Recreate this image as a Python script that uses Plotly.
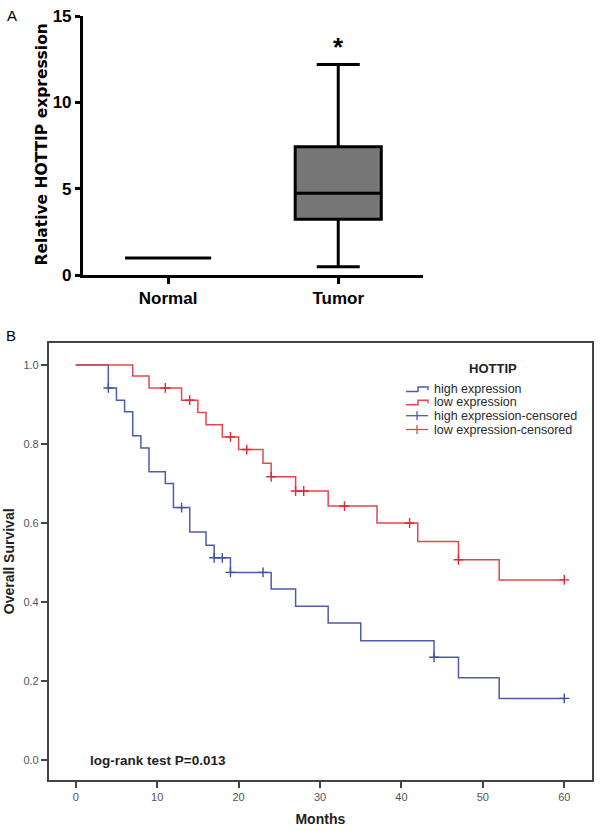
import numpy as np
import plotly.graph_objects as go

W, H = 600, 831
FONT = "Liberation Sans, Arial, sans-serif"
WIDE = "DejaVu Sans, Liberation Sans, sans-serif"


def fx(p):
    return p / W


def fy(p):
    return 1 - p / H


# ---------------- Panel A data (box plot) ----------------
groups = ["Normal", "Tumor"]
q1_vals = [1.0, 3.24]
median_vals = [1.0, 4.74]
q3_vals = [1.0, 7.44]
lower_vals = [1.0, 0.5]
upper_vals = [1.0, 12.2]
sig_labels = ["", "*"]
sig_y = [None, 13.2]
a_yticks = [0, 5, 10, 15]

# ---------------- Panel B data (Kaplan-Meier) ----------------
high_times = [0, 4, 5, 6, 7, 8, 9, 11, 12, 14, 16, 17, 19, 24, 27, 31, 35, 44, 47, 52, 60]
high_surv = [1.0, 0.942, 0.911, 0.882, 0.821, 0.790, 0.730, 0.700, 0.639, 0.577, 0.544,
             0.512, 0.475, 0.433, 0.389, 0.347, 0.302, 0.260, 0.208, 0.156, 0.156]
low_times = [0, 7, 9, 13, 15, 16, 18, 20, 23, 24, 27, 31, 37, 42, 47, 52, 60]
low_surv = [1.0, 0.972, 0.942, 0.911, 0.880, 0.849, 0.818, 0.786, 0.751, 0.717, 0.681,
            0.643, 0.600, 0.553, 0.507, 0.456, 0.456]
high_censored = [4, 13, 17, 18, 19, 23, 44, 60]
low_censored = [11, 14, 19, 21, 24, 27, 28, 33, 41, 47, 60]
b_xticks = [0, 10, 20, 30, 40, 50, 60]
b_yticks = [0.0, 0.2, 0.4, 0.6, 0.8, 1.0]

BLUE = "#4d5cab"
RED = "#e2474f"
BLUE_C = "#3f4f9f"
RED_C = "#d92a35"


def km_at(times, surv, t):
    idx = np.searchsorted(np.array(times), np.array(t), side="right") - 1
    return list(np.array(surv)[idx])


fig = go.Figure()

# Panel A boxes
for i, g in enumerate(groups):
    fig.add_trace(go.Box(
        x=[i], q1=[q1_vals[i]], median=[median_vals[i]], q3=[q3_vals[i]],
        lowerfence=[lower_vals[i]], upperfence=[upper_vals[i]],
        name=g, width=0.506, whiskerwidth=0.5, fillcolor="#767676",
        line=dict(color="black", width=3), boxpoints=False,
        showlegend=False, xaxis="x", yaxis="y", hoverinfo="skip"))

# Panel B curves
fig.add_trace(go.Scatter(x=high_times, y=high_surv, mode="lines", line_shape="hv",
                         line=dict(color=BLUE, width=1.5), name="high expression",
                         xaxis="x2", yaxis="y2", showlegend=False))
fig.add_trace(go.Scatter(x=low_times, y=low_surv, mode="lines", line_shape="hv",
                         line=dict(color=RED, width=1.5), name="low expression",
                         xaxis="x2", yaxis="y2", showlegend=False))
fig.add_trace(go.Scatter(x=high_censored, y=km_at(high_times, high_surv, high_censored),
                         mode="markers", name="high expression-censored",
                         marker=dict(symbol="cross-thin", size=7,
                                     line=dict(color=BLUE_C, width=1.4)),
                         xaxis="x2", yaxis="y2", showlegend=False))
fig.add_trace(go.Scatter(x=low_censored, y=km_at(low_times, low_surv, low_censored),
                         mode="markers", name="low expression-censored",
                         marker=dict(symbol="cross-thin", size=7,
                                     line=dict(color=RED_C, width=1.4)),
                         xaxis="x2", yaxis="y2", showlegend=False))

annotations = []
shapes = []

# significance star
for i, lab in enumerate(sig_labels):
    if lab:
        annotations.append(dict(x=i, y=sig_y[i], xref="x", yref="y", text="<b>" + lab + "</b>",
                                showarrow=False, font=dict(family=FONT, size=26, color="black"),
                                xanchor="center", yanchor="middle"))

# y-axis title of panel A (wide bold face, as in the original)
annotations.append(dict(x=fx(41.5), y=fy(145), xref="paper", yref="paper",
                        text="<b>Relative HOTTIP expression</b>", textangle=-90,
                        xanchor="center", yanchor="middle",
                        showarrow=False, font=dict(family=WIDE, size=15.5, color="black")))

# panel letters
annotations.append(dict(x=fx(12), y=fy(15), xref="paper", yref="paper", text="A",
                        xanchor="center", yanchor="middle",
                        showarrow=False, font=dict(family=FONT, size=15, color="black")))
annotations.append(dict(x=fx(10.5), y=fy(335), xref="paper", yref="paper", text="B",
                        xanchor="center", yanchor="middle",
                        showarrow=False, font=dict(family=FONT, size=15, color="black")))

# log-rank text
annotations.append(dict(x=fx(88), y=fy(760), xref="paper", yref="paper",
                        text="<b>log-rank test P=0.013</b>", showarrow=False,
                        xanchor="left", yanchor="middle",
                        font=dict(family=FONT, size=13.5, color="#222")))

# manual legend
annotations.append(dict(x=fx(493), y=fy(368), xref="paper", yref="paper",
                        text="<b>HOTTIP</b>", showarrow=False, xanchor="center", yanchor="middle",
                        font=dict(family=FONT, size=13, color="#222")))
legend_items = [("high expression", BLUE, "step"), ("low expression", RED, "step"),
                ("high expression-censored", BLUE, "cens"), ("low expression-censored", RED, "cens")]
leg_y = [389, 402.3, 415.7, 429.5]
for (txt, col, kind), yy in zip(legend_items, leg_y):
    annotations.append(dict(x=fx(431.5), y=fy(yy), xref="paper", yref="paper", text=txt,
                            showarrow=False, xanchor="left", yanchor="middle",
                            font=dict(family=FONT, size=12.5, color="#2a2a2a")))
    if kind == "step":
        path = "M {:.4f} {:.4f} L {:.4f} {:.4f} L {:.4f} {:.4f} L {:.4f} {:.4f} L {:.4f} {:.4f}".format(
            fx(406), fy(yy + 2.5), fx(418), fy(yy + 2.5), fx(418), fy(yy - 2), fx(428), fy(yy - 2),
            fx(428), fy(yy + 1))
        shapes.append(dict(type="path", path=path, xref="paper", yref="paper",
                           line=dict(color=col, width=1.5)))
    else:
        shapes.append(dict(type="line", x0=fx(406), x1=fx(428), y0=fy(yy), y1=fy(yy),
                           xref="paper", yref="paper", line=dict(color=col, width=1.3)))
        shapes.append(dict(type="line", x0=fx(417), x1=fx(417), y0=fy(yy - 4.5), y1=fy(yy + 4.5),
                           xref="paper", yref="paper", line=dict(color=col, width=1.3)))

fig.update_layout(
    width=W, height=H,
    margin=dict(l=0, r=0, t=0, b=0, autoexpand=False),
    paper_bgcolor="white", plot_bgcolor="white",
    font=dict(family=FONT),
    showlegend=False,
    annotations=annotations,
    shapes=shapes,
    xaxis=dict(domain=[fx(82.7), fx(423.3)], range=[-0.502, 1.5], anchor="y", automargin=False,
               tickvals=[0, 1], ticktext=groups, showgrid=False, zeroline=False,
               showline=True, linecolor="black", linewidth=2.5,
               ticks="outside", ticklen=6, tickwidth=2.5, tickcolor="black",
               tickfont=dict(family=FONT, size=17, color="black", weight="bold")),
    yaxis=dict(domain=[fy(275.3), fy(16)], range=[0, 15], anchor="x", automargin=False,
               tickvals=a_yticks, showgrid=False, zeroline=False,
               showline=True, linecolor="black", linewidth=2.5,
               ticks="outside", ticklen=5, tickwidth=2.5, tickcolor="black",
               tickfont=dict(family=FONT, size=17, color="black", weight="bold")),
    xaxis2=dict(domain=[fx(48.7), fx(592)], range=[-3.32, 63.4], anchor="y2", automargin=False,
                tickvals=b_xticks, showgrid=False, zeroline=False,
                showline=True, mirror=True, linecolor="#444", linewidth=1.6,
                ticks="outside", ticklen=6, tickwidth=1.5, tickcolor="#444",
                tickfont=dict(family=FONT, size=11, color="#555"),
                title=dict(text="<b>Months</b>", standoff=12,
                           font=dict(family=FONT, size=14, color="#222"))),
    yaxis2=dict(domain=[fy(780), fy(342.7)], range=[-0.0506, 1.0565], anchor="x2", automargin=False,
                tickvals=b_yticks, tickformat=".1f", showgrid=False, zeroline=False,
                showline=True, mirror=True, linecolor="#444", linewidth=1.6,
                ticks="outside", ticklen=6, tickwidth=1.5, tickcolor="#444",
                tickfont=dict(family=FONT, size=11, color="#555"),
                title=dict(text="<b>Overall Survival</b>", standoff=5,
                           font=dict(family=FONT, size=14, color="#222"))),
)

fig.write_html(
    "out.html",
    config={"displayModeBar": False},
    post_script="document.body.style.margin='0';document.body.style.overflow='hidden';",
)
